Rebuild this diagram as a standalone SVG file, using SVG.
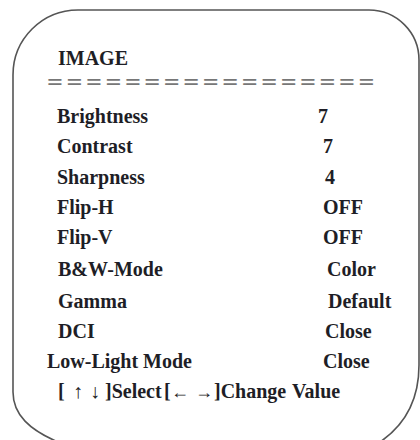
<svg xmlns="http://www.w3.org/2000/svg" width="420" height="440" viewBox="0 0 420 440">
<style>
.t{font-family:"Liberation Serif","Times New Roman",serif;font-weight:bold;font-size:20px;fill:#1e1e26;}
.eq{font-family:"Liberation Serif","Times New Roman",serif;font-weight:bold;font-size:23px;letter-spacing:2.9px;fill:#777;}
.ar{font-family:"Liberation Serif","DejaVu Serif",serif;font-weight:normal;font-size:20px;fill:#222;}
.arh{font-family:"Liberation Serif","DejaVu Serif",serif;font-weight:normal;font-size:18px;fill:#222;}
</style>
<rect width="420" height="440" fill="#fff"/>
<path id="frame" d="M13,392 L13,75 A65,65 0 0 1 78,10 L369,10 A50,50 0 0 1 419,60 L419,365 C419,400 405,425 380,442 L58,442 C30,430 13,415 13,392 Z" fill="none" stroke="#555" stroke-width="1.6"/>
<g id="title"><text class="t" x="58" y="65">IMAGE</text></g>
<g id="separator"><text class="eq" x="47" y="90" textLength="331" lengthAdjust="spacingAndGlyphs">=================</text></g>
<g id="row-brightness"><text class="t" x="57" y="123">Brightness</text><text class="t" x="318" y="123">7</text></g>
<g id="row-contrast"><text class="t" x="57" y="153">Contrast</text><text class="t" x="323" y="153">7</text></g>
<g id="row-sharpness"><text class="t" x="57" y="184">Sharpness</text><text class="t" x="325" y="184">4</text></g>
<g id="row-fliph"><text class="t" x="57" y="214">Flip-H</text><text class="t" x="323" y="214">OFF</text></g>
<g id="row-flipv"><text class="t" x="57" y="244">Flip-V</text><text class="t" x="323" y="244">OFF</text></g>
<g id="row-bw"><text class="t" x="58" y="276">B&amp;W-Mode</text><text class="t" x="327" y="276">Color</text></g>
<g id="row-gamma"><text class="t" x="58" y="308">Gamma</text><text class="t" x="328" y="308">Default</text></g>
<g id="row-dci"><text class="t" x="58" y="338">DCI</text><text class="t" x="325" y="338">Close</text></g>
<g id="row-lowlight"><text class="t" x="47" y="368">Low-Light Mode</text><text class="t" x="323" y="368">Close</text></g>
<g id="footer"><text class="t" y="398"><tspan x="58">[</tspan><tspan class="ar" x="73">↑</tspan><tspan class="ar" x="90">↓</tspan><tspan x="105">]Select</tspan><tspan x="164">[</tspan><tspan class="arh" x="171">←</tspan><tspan class="arh" x="195">→</tspan><tspan x="214">]Change</tspan><tspan x="292">Value</tspan></text></g>
</svg>
